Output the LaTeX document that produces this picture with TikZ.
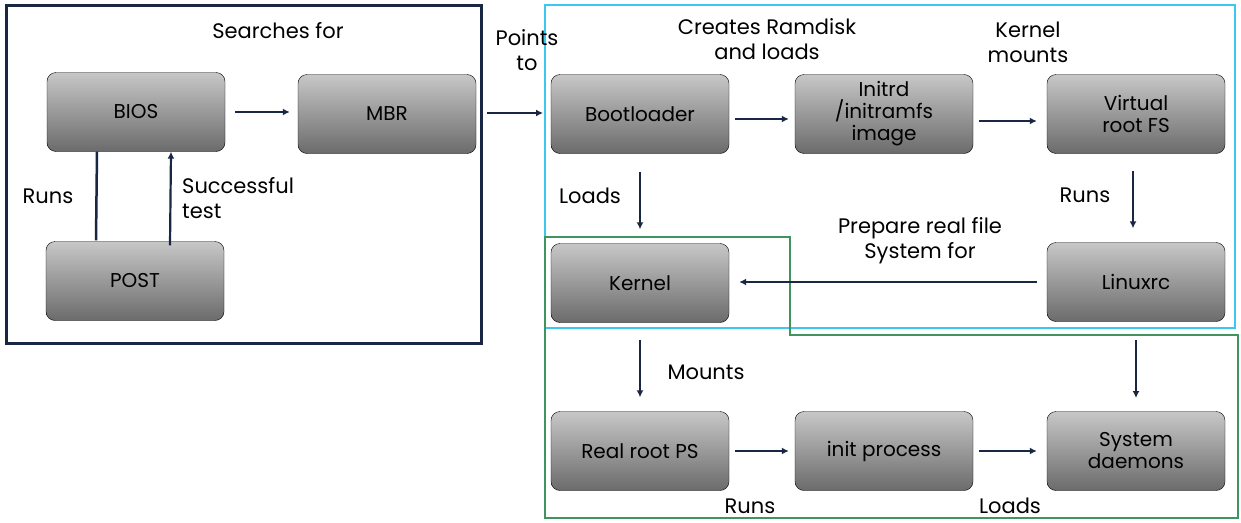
\documentclass[tikz,border=0pt]{standalone}
\usepackage{fontspec}
\setmainfont{Poppins}
\begin{document}
\begin{tikzpicture}[x=1pt,y=-1pt,
  box/.style={draw=black,rounded corners=9pt,minimum width=178pt,minimum height=79pt,top color=black!22,bottom color=black!58,align=center,font=\fontsize{20}{22}\selectfont,inner sep=2pt},
  arr/.style={draw=navy,line width=2.2pt,-{Latex[length=7pt,width=7pt]}},
  lbl/.style={font=\fontsize{21}{25}\selectfont,align=center,inner sep=0pt}]
\usetikzlibrary{arrows.meta}
\definecolor{navy}{HTML}{1A2744}
\definecolor{cyanb}{HTML}{3CC8EE}
\definecolor{greenb}{HTML}{3F9460}
\useasboundingbox (0,0) rectangle (1241,522);
\fill[white] (0,0) rectangle (1241,522);
% frames
\draw[navy,line width=3pt] (6,5) rectangle (481,343);
\draw[cyanb,line width=2.5pt] (545,5) rectangle (1235,328);
\draw[greenb,line width=2.5pt] (545,237) -- (790,237) -- (790,335) -- (1238,335) -- (1238,518) -- (545,518) -- cycle;
% nodes
\node[box] (bios) at (136,112) {BIOS};
\node[box] (mbr) at (387,114) {MBR};
\node[box] (post) at (135,281) {POST};
\node[box] (boot) at (640,114) {Bootloader};
\node[box] (initrd) at (884,114) {Initrd\\/initramfs\\image};
\node[box] (vroot) at (1136,114) {Virtual\\root FS};
\node[box] (kernel) at (640,283) {Kernel};
\node[box] (linuxrc) at (1136,282) {Linuxrc};
\node[box] (real) at (640,451) {Real root PS};
\node[box] (init) at (884,451) {init process};
\node[box] (sysd) at (1136,451) {System\\daemons};
% free ends
\coordinate (mbrOut) at (487,113);
\coordinate (bootIn) at (543,113);
\coordinate (lxOut) at (1136,340);
\coordinate (lxEnd) at (1136,398);
% connectors
\draw[arr] ([xshift=10pt]bios.east) -- ([xshift=-8pt]mbr.west|-bios.east);
\draw[navy,line width=2.5pt] ([xshift=-39pt]bios.south) -- ([xshift=-39pt,yshift=1pt]post.north);
\draw[arr] ([xshift=35pt,yshift=-4pt]post.north) -- ([xshift=35pt]bios.south);
\draw[arr] (mbrOut) -- (bootIn);
\draw[arr] ([xshift=6pt,yshift=-5pt]boot.east) -- ([xshift=-6pt,yshift=-5pt]initrd.west);
\draw[arr] ([xshift=6pt,yshift=-7pt]initrd.east) -- ([xshift=-10pt,yshift=-7pt]vroot.west);
\draw[arr] ([yshift=-18pt]boot.south) -- ([yshift=14pt]kernel.north);
\draw[arr] ([xshift=-3pt,yshift=-17pt]vroot.south) -- ([xshift=-3pt,yshift=14pt]linuxrc.north);
\draw[arr] ([xshift=-10pt]linuxrc.west) -- ([xshift=10pt]kernel.east|-linuxrc.west);
\draw[arr] ([yshift=-17pt]kernel.south) -- ([yshift=14pt]real.north);
\draw[arr] (lxOut) -- (lxEnd);
\draw[arr] ([xshift=6pt]real.east) -- ([xshift=-6pt]init.west);
\draw[arr] ([xshift=6pt]init.east) -- ([xshift=-10pt]sysd.west);
% labels
\node[lbl] at (278,31) {Searches for};
\node[lbl] at (527,50) {Points\\to};
\node[lbl] at (767,39) {Creates Ramdisk\\and loads};
\node[lbl] at (1028,42) {Kernel\\mounts};
\node[lbl] at (590,196) {Loads};
\node[lbl] at (1085,195) {Runs};
\node[lbl] at (920,241) {Prepare real file\\System for};
\node[lbl] at (706,372) {Mounts};
\node[lbl] at (48,196) {Runs};
\node[lbl,align=left,anchor=west] at (182,198) {Successful\\test};
\node[lbl] at (750,506) {Runs};
\node[lbl] at (1010,506) {Loads};
\end{tikzpicture}
\end{document}
